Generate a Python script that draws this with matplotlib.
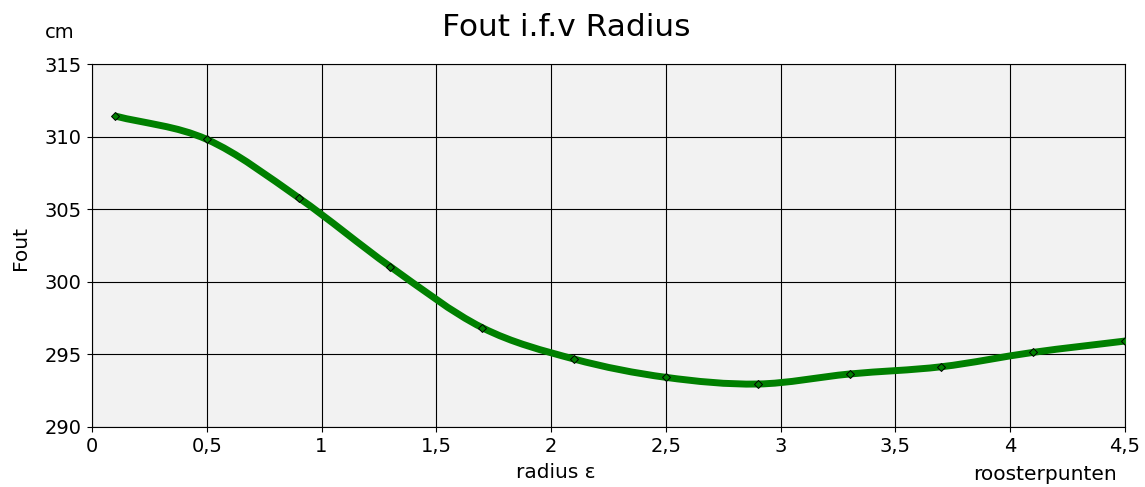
import numpy as np
import matplotlib.pyplot as plt
from matplotlib.path import Path
from matplotlib.patches import PathPatch

# data
radius = [0.1, 0.5, 0.9, 1.3, 1.7, 2.1, 2.5, 2.9, 3.3, 3.7, 4.1, 4.5]
fout = [311.42, 309.81, 305.79, 301.04, 296.84, 294.68, 293.42, 292.96,
        293.65, 294.15, 295.14, 295.92]

x_ticks = [0, 0.5, 1, 1.5, 2, 2.5, 3, 3.5, 4, 4.5]
x_tick_labels = ['0', '0,5', '1', '1,5', '2', '2,5', '3', '3,5', '4', '4,5']
y_ticks = [290, 295, 300, 305, 310, 315]

fig = plt.figure(figsize=(11.45, 4.87), dpi=100)
ax = fig.add_axes([92 / 1145, 1 - 427 / 487, (1125 - 92) / 1145, (427 - 64) / 487])
ax.set_facecolor('#f2f2f2')

# smooth line through the points (Catmull-Rom as cubic Bezier segments)
pts = np.column_stack([radius, fout])
ext = np.vstack([2 * pts[0] - pts[1], pts, 2 * pts[-1] - pts[-2]])
verts = [pts[0]]
codes = [Path.MOVETO]
for i in range(1, len(ext) - 2):
    p0, p1, p2, p3 = ext[i - 1], ext[i], ext[i + 1], ext[i + 2]
    verts += [p1 + (p2 - p0) / 6, p2 - (p3 - p1) / 6, p2]
    codes += [Path.CURVE4] * 3
ax.add_patch(PathPatch(Path(verts, codes), facecolor='none', edgecolor='#008000',
                       linewidth=5, capstyle='butt', zorder=3))
ax.plot(radius, fout, linestyle='none', marker='D', markersize=4,
        markerfacecolor='#008000', markeredgecolor='black', markeredgewidth=0.7, zorder=4)

ax.set_xlim(0, 4.5)
ax.set_ylim(290, 315)
ax.set_xticks(x_ticks)
ax.set_xticklabels(x_tick_labels)
ax.set_yticks(y_ticks)
ax.grid(True, color='black', linewidth=0.8)
ax.set_axisbelow(True)
ax.tick_params(labelsize=14, length=3.5, width=0.8, pad=4)
for s in ax.spines.values():
    s.set_linewidth(0.8)

fig.text(566 / 1145, 1 - 27 / 487, 'Fout i.f.v Radius', ha='center', va='center', fontsize=22.5)
fig.text(60 / 1145, 1 - 32 / 487, 'cm', ha='center', va='center', fontsize=14)
fig.text(21 / 1145, 1 - 248 / 487, 'Fout', ha='center', va='center', rotation=90, fontsize=14.5)
fig.text(556 / 1145, 1 - 473 / 487, 'radius ε', ha='center', va='center', fontsize=14.5)
fig.text(1045 / 1145, 1 - 474 / 487, 'roosterpunten', ha='center', va='center', fontsize=14.5)

fig.savefig('out.png', dpi=100)
